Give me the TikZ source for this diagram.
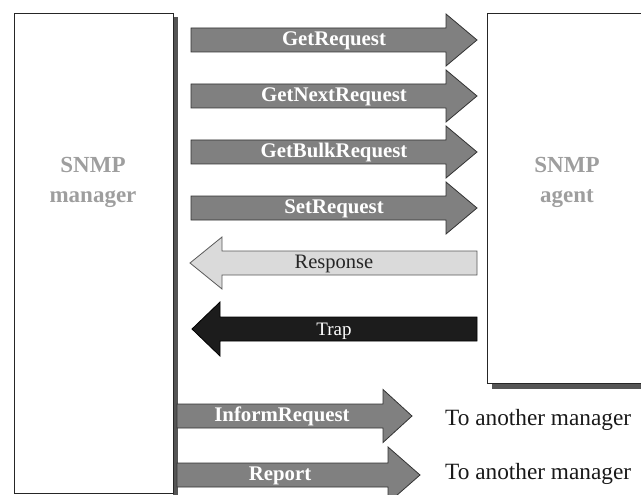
\documentclass[tikz,border=0pt]{standalone}
\usepackage{fontspec}
\setmainfont{Liberation Serif}
\definecolor{arrgray}{HTML}{808080}
\definecolor{arrlight}{HTML}{DADADA}
\definecolor{arrdark}{HTML}{1C1C1C}
\definecolor{boxtext}{HTML}{9E9E9E}
\definecolor{shadowc}{HTML}{555555}
\newcommand\rblock[6]{% x1, xbase, xtip, yc, headhalf, style
  \draw[#6] (#1,#4-12) -- (#2,#4-12) -- (#2,#4-#5) -- (#3,#4) -- (#2,#4+#5) -- (#2,#4+12) -- (#1,#4+12) -- cycle;}
\newcommand\lblock[6]{% xright, xbase, xtip, yc, headhalf, style
  \draw[#6] (#1,#4-12) -- (#2,#4-12) -- (#2,#4-#5) -- (#3,#4) -- (#2,#4+#5) -- (#2,#4+12) -- (#1,#4+12) -- cycle;}
\tikzset{
  bigbox/.style={draw=black!85, line width=1.1pt, fill=white, rectangle, inner sep=0pt},
  boxlabel/.style={text=boxtext, font=\bfseries\fontsize{23}{30}\selectfont, align=center, anchor=base},
  grayarrow/.style={fill=arrgray, draw=black!80, line width=0.8pt},
  lightarrow/.style={fill=arrlight, draw=black!65, line width=0.8pt},
  darkarrow/.style={fill=arrdark, draw=black, line width=0.8pt},
  wlabel/.style={text=white, font=\bfseries\fontsize{20.8}{24}\selectfont, anchor=base, inner sep=0pt},
  blabel/.style={text=black!85, font=\fontsize{20.5}{24}\selectfont, anchor=base, inner sep=0pt},
  tlabel/.style={text=white, font=\fontsize{19}{24}\selectfont, anchor=base, inner sep=0pt},
  destlabel/.style={text=black!90, font=\fontsize{23.3}{26}\selectfont, anchor=base west, inner sep=0pt},
}
\begin{document}
\begin{tikzpicture}[x=1pt,y=-1pt]
\useasboundingbox (0,0) rectangle (641,495);
% shadows
\fill[shadowc] (173,17) rectangle (178,495);
\fill[shadowc] (492,383) rectangle (645,389);
% boxes
\node[bigbox, minimum width=159pt, minimum height=480pt, anchor=north west] (mgr) at (14,13) {};
\node[bigbox, minimum width=160pt, minimum height=370pt, anchor=north west] (agt) at (487,13) {};
\node[boxlabel] (mgrlabel) at (93,172) {SNMP};
\node[boxlabel] (mgrlabel2) at (93,202) {manager};
\node[boxlabel] (agtlabel) at (567,172) {SNMP};
\node[boxlabel] (agtlabel2) at (567,202) {agent};
% manager -> agent
\rblock{191}{446}{477}{40}{26}{grayarrow}
\rblock{191}{446}{477}{96}{26}{grayarrow}
\rblock{191}{446}{477}{152}{26}{grayarrow}
\rblock{191}{446}{477}{208}{26}{grayarrow}
\node[wlabel] (getreq) at (334,45.5) {GetRequest};
\node[wlabel] (getnext) at (334,101.5) {GetNextRequest};
\node[wlabel] (getbulk) at (334,157.5) {GetBulkRequest};
\node[wlabel] (setreq) at (334,213.5) {SetRequest};
% agent -> manager
\lblock{477}{222}{190}{263}{26}{lightarrow}
\lblock{477}{220}{192}{329}{27}{darkarrow}
\node[blabel] (resp) at (334,269) {Response};
\node[tlabel] (trap) at (334,335) {Trap};
% manager -> another manager
\rblock{177}{383}{412}{416}{26.5}{grayarrow}
\rblock{177}{388}{420}{475}{28}{grayarrow}
\node[wlabel] (inform) at (282,421.5) {InformRequest};
\node[wlabel] (report) at (280,480.5) {Report};
\node[destlabel] (dest1) at (445,425) {To another manager};
\node[destlabel] (dest2) at (445,479) {To another manager};
\end{tikzpicture}
\end{document}
